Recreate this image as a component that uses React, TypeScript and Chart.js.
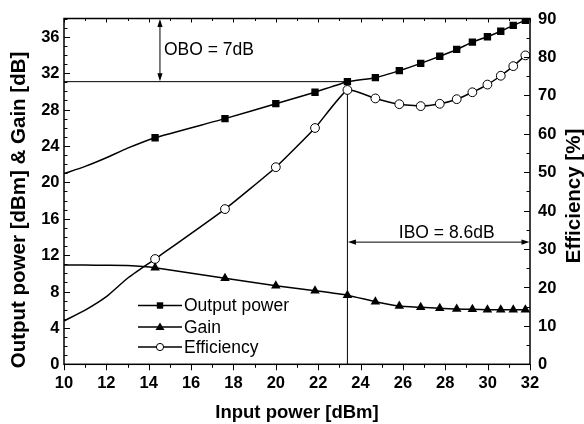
import React, { useEffect, useRef } from "react";
import { Chart, registerables } from "chart.js";

Chart.register(...registerables);

// ---- data ----
const leadInput = [10, 11, 12, 13];
const leadOutput = [20.95, 21.75, 22.7, 23.75];
const leadGain = [10.9, 10.9, 10.88, 10.85];
const leadEfficiency = [11.3, 14.1, 17.6, 22.4];

const inputPower = [14.3, 17.6, 20.0, 21.85, 23.38, 24.7, 25.83, 26.84, 27.74, 28.54, 29.28, 29.99, 30.62, 31.21, 31.78];
const outputPower = [24.9, 27.0, 28.64, 29.9, 31.06, 31.5, 32.27, 33.07, 33.85, 34.6, 35.4, 36.0, 36.6, 37.25, 37.8];
const gain = [10.6, 9.45, 8.64, 8.09, 7.6, 6.88, 6.4, 6.26, 6.15, 6.08, 6.04, 6.0, 6.0, 6.0, 6.0];
const efficiency = [27.4, 40.4, 51.3, 61.5, 71.4, 69.2, 67.7, 67.2, 67.8, 69.0, 70.8, 72.8, 75.1, 77.6, 80.4];

const xTicks = [10, 12, 14, 16, 18, 20, 22, 24, 26, 28, 30, 32];
const yLeftTicks = [0, 4, 8, 12, 16, 20, 24, 28, 32, 36];
const yRightTicks = [0, 10, 20, 30, 40, 50, 60, 70, 80, 90];

const seriesNames = ["Output power", "Gain", "Efficiency"];
const xTitle = "Input power [dBm]";
const yLeftTitle = "Output power [dBm] & Gain [dB]";
const yRightTitle = "Efficiency [%]";

const backoffPin = 23.38;
const backoffPout = 31.06;
const backoffEff = 71.4;
const oboLabel = "OBO = 7dB";
const oboX = 14.53;
const iboLabel = "IBO = 8.6dB";
const iboY = 31.8; // on efficiency axis

const FONT = '"Liberation Sans", Arial, sans-serif';

const pts = (xs: number[], ys: number[]) => xs.map((x, i) => ({ x, y: ys[i] }));
const radii = (lead: number, main: number, r: number) => [
  ...Array(lead).fill(0),
  ...Array(main).fill(r),
];

function arrowHead(ctx: CanvasRenderingContext2D, x: number, y: number, dir: string) {
  const L = 8, W = 2.6;
  ctx.beginPath();
  if (dir === "up") { ctx.moveTo(x, y); ctx.lineTo(x - W, y + L); ctx.lineTo(x + W, y + L); }
  if (dir === "down") { ctx.moveTo(x, y); ctx.lineTo(x - W, y - L); ctx.lineTo(x + W, y - L); }
  if (dir === "left") { ctx.moveTo(x, y); ctx.lineTo(x + L, y - W); ctx.lineTo(x + L, y + W); }
  if (dir === "right") { ctx.moveTo(x, y); ctx.lineTo(x - L, y - W); ctx.lineTo(x - L, y + W); }
  ctx.closePath();
  ctx.fill();
}

function legendMarker(ctx: CanvasRenderingContext2D, kind: string, x: number, y: number) {
  ctx.save();
  ctx.fillStyle = "#000";
  ctx.strokeStyle = "#000";
  ctx.lineWidth = 1;
  if (kind === "rect") {
    ctx.fillRect(x - 3.2, y - 3.2, 6.4, 6.4);
  } else if (kind === "triangle") {
    ctx.beginPath();
    ctx.moveTo(x, y - 4.5);
    ctx.lineTo(x + 4.5, y + 3);
    ctx.lineTo(x - 4.5, y + 3);
    ctx.closePath();
    ctx.fill();
  } else {
    ctx.beginPath();
    ctx.arc(x, y, 3.6, 0, Math.PI * 2);
    ctx.fillStyle = "#fff";
    ctx.fill();
    ctx.stroke();
  }
  ctx.restore();
}

const decorPlugin = {
  id: "decor",
  beforeDatasetsDraw(chart: any) {
    const { ctx, chartArea: a, scales } = chart;
    const x = scales.x, y = scales.y, y1 = scales.y1;
    ctx.save();
    ctx.strokeStyle = "#000";
    ctx.fillStyle = "#000";
    ctx.lineWidth = 1;
    const px = x.getPixelForValue(backoffPin);
    const py = y.getPixelForValue(backoffPout);
    // horizontal OBO reference line
    ctx.beginPath();
    ctx.moveTo(a.left, py);
    ctx.lineTo(px, py);
    ctx.stroke();
    // vertical IBO reference line
    ctx.beginPath();
    ctx.moveTo(px, y1.getPixelForValue(backoffEff));
    ctx.lineTo(px, a.bottom);
    ctx.stroke();
    // OBO arrow
    const ox = x.getPixelForValue(oboX);
    ctx.beginPath();
    ctx.moveTo(ox, a.top + 4);
    ctx.lineTo(ox, py - 4);
    ctx.stroke();
    arrowHead(ctx, ox, a.top + 0.5, "up");
    arrowHead(ctx, ox, py - 0.5, "down");
    // IBO arrow
    const iy = y1.getPixelForValue(iboY);
    ctx.beginPath();
    ctx.moveTo(px + 4, iy);
    ctx.lineTo(a.right - 4, iy);
    ctx.stroke();
    arrowHead(ctx, px + 0.5, iy, "left");
    arrowHead(ctx, a.right - 0.5, iy, "right");
    // labels
    ctx.font = `17.5px ${FONT}`;
    ctx.textBaseline = "middle";
    ctx.textAlign = "left";
    ctx.fillText(oboLabel, ox + 4, 50);
    ctx.textAlign = "center";
    ctx.fillText(iboLabel, (px + a.right) / 2 + 8, 233.5);
    ctx.restore();
  },
  afterDraw(chart: any) {
    const { ctx, chartArea: a, scales } = chart;
    const x = scales.x, y = scales.y, y1 = scales.y1;
    ctx.save();
    ctx.strokeStyle = "#000";
    ctx.fillStyle = "#000";
    ctx.lineWidth = 1.5;
    ctx.strokeRect(a.left, a.top, a.right - a.left, a.bottom - a.top);
    ctx.lineWidth = 1;
    // x ticks (bottom outward, top inward)
    for (let v = 10; v <= 32; v += 1) {
      const p = Math.round(x.getPixelForValue(v)) + 0.5;
      const major = v % 2 === 0;
      ctx.beginPath();
      ctx.moveTo(p, a.bottom);
      ctx.lineTo(p, a.bottom + (major ? 6 : 3.5));
      ctx.moveTo(p, a.top);
      ctx.lineTo(p, a.top + (major ? 4 : 2.5));
      ctx.stroke();
    }
    // left ticks inward
    for (let v = 0; v <= 38; v += 1) {
      const p = Math.round(y.getPixelForValue(v)) + 0.5;
      const major = v % 4 === 0;
      ctx.beginPath();
      ctx.moveTo(a.left, p);
      ctx.lineTo(a.left + (major ? 6 : 3.5), p);
      ctx.stroke();
    }
    // right ticks inward
    for (let v = 0; v <= 90; v += 5) {
      const p = Math.round(y1.getPixelForValue(v)) + 0.5;
      const major = v % 10 === 0;
      ctx.beginPath();
      ctx.moveTo(a.right, p);
      ctx.lineTo(a.right - (major ? 6 : 3.5), p);
      ctx.stroke();
    }
    // tick labels
    ctx.font = `bold 16.5px ${FONT}`;
    ctx.textBaseline = "middle";
    ctx.textAlign = "center";
    xTicks.forEach((v) => ctx.fillText(String(v), x.getPixelForValue(v), 383.5));
    ctx.textAlign = "right";
    yLeftTicks.forEach((v) => ctx.fillText(String(v), a.left - 4.5, y.getPixelForValue(v) + 0.5));
    ctx.textAlign = "left";
    yRightTicks.forEach((v) => ctx.fillText(String(v), a.right + 8, y1.getPixelForValue(v) + 0.5));
    // axis titles
    ctx.font = `bold 18.5px ${FONT}`;
    ctx.textAlign = "center";
    ctx.fillText(xTitle, (a.left + a.right) / 2, 413);
    ctx.font = `bold 20.5px ${FONT}`;
    ctx.save();
    ctx.translate(19.5, 210);
    ctx.rotate(-Math.PI / 2);
    ctx.fillText(yLeftTitle, 0, 0);
    ctx.restore();
    ctx.save();
    ctx.translate(574, 196);
    ctx.rotate(-Math.PI / 2);
    ctx.fillText(yRightTitle, 0, 0);
    ctx.restore();
    // legend
    const kinds = ["rect", "triangle", "circle"];
    const rows = [305.5, 327, 347];
    ctx.font = `17.5px ${FONT}`;
    ctx.textAlign = "left";
    seriesNames.forEach((name, i) => {
      const ry = rows[i];
      ctx.lineWidth = 1.5;
      ctx.beginPath();
      ctx.moveTo(138, ry);
      ctx.lineTo(182, ry);
      ctx.stroke();
      legendMarker(ctx, kinds[i], 160, ry);
      ctx.fillStyle = "#000";
      ctx.fillText(name, 184, ry + 1);
    });
    ctx.restore();
  },
};

export default function App() {
  const ref = useRef<HTMLCanvasElement>(null);
  useEffect(() => {
    const lead = leadInput.length;
    const main = inputPower.length;
    const chart = new Chart(ref.current as HTMLCanvasElement, {
      type: "line",
      data: {
        datasets: [
          {
            label: seriesNames[0],
            data: pts([...leadInput, ...inputPower], [...leadOutput, ...outputPower]),
            yAxisID: "y",
            borderColor: "#000",
            backgroundColor: "#000",
            borderWidth: 1.5,
            pointStyle: "rect",
            pointRadius: radii(lead, main, 5.2),
            pointBorderWidth: 0,
            tension: 0.15,
          },
          {
            label: seriesNames[1],
            data: pts([...leadInput, ...inputPower], [...leadGain, ...gain]),
            yAxisID: "y",
            borderColor: "#000",
            backgroundColor: "#000",
            borderWidth: 1.5,
            pointStyle: "triangle",
            pointRadius: radii(lead, main, 5.5),
            pointBorderWidth: 0,
            tension: 0.15,
          },
          {
            label: seriesNames[2],
            data: pts([...leadInput, ...inputPower], [...leadEfficiency, ...efficiency]),
            yAxisID: "y1",
            borderColor: "#000",
            backgroundColor: "#fff",
            borderWidth: 1.5,
            pointStyle: "circle",
            pointRadius: radii(lead, main, 4.4),
            pointBorderWidth: 1,
            pointBorderColor: "#000",
            pointBackgroundColor: "#fff",
            tension: 0.15,
          },
        ],
      },
      options: {
        responsive: false,
        animation: false,
        devicePixelRatio: 1,
        layout: { padding: { left: 64, right: 54, top: 18.5, bottom: 59.7 } },
        plugins: { legend: { display: false }, tooltip: { enabled: false } },
        events: [],
        scales: {
          x: { type: "linear", min: 10, max: 32, display: false },
          y: { type: "linear", min: 0, max: 38, display: false },
          y1: { type: "linear", min: 0, max: 90, display: false, position: "right" },
        },
      },
      plugins: [decorPlugin],
    } as any);
    return () => chart.destroy();
  }, []);
  return (
    <div style={{ position: "fixed", left: 0, top: 0, width: 584, height: 424, background: "#fff" }}>
      <canvas ref={ref} width={584} height={424} style={{ display: "block", width: 584, height: 424 }} />
    </div>
  );
}
